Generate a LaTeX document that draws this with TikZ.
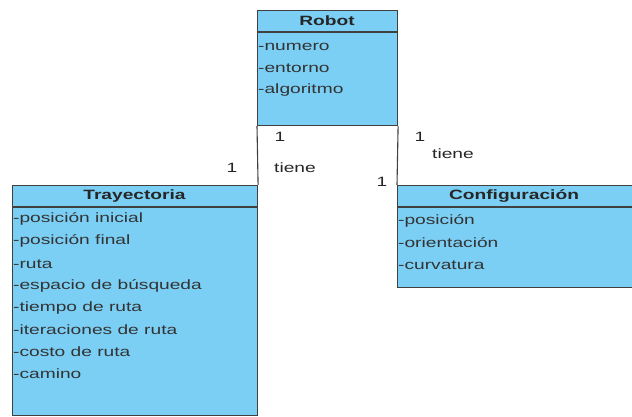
\documentclass[tikz,border=0pt]{standalone}
\usepackage{fontspec}
\setmainfont{Liberation Sans}[FakeStretch=1.42]
\begin{document}
\begin{tikzpicture}[x=1pt,y=-1pt,
  classbox/.style={draw=black!75,line width=1.1pt,fill=umlblue,anchor=north west,inner sep=0pt},
  hdr/.style={font=\fontsize{13.5}{14}\selectfont\bfseries,text=black!85,anchor=center},
  attr/.style={font=\fontsize{13.5}{14}\selectfont,text=black!80,anchor=west,inner sep=0pt},
  lbl/.style={font=\fontsize{13.5}{14}\selectfont,text=black!85,anchor=center,inner sep=0pt},
  conn/.style={draw=black!75,line width=1.1pt}]
\definecolor{umlblue}{HTML}{7BCFF4}
\useasboundingbox (0,0) rectangle (632,417);
% Robot
\node[classbox,minimum width=140pt,minimum height=115pt] (robot) at (257,10) {};
\draw[conn] (257,32) -- (397,32);
\node[hdr] (robotT) at (327,21) {Robot};
\node[attr] (r1) at (258,47) {-numero};
\node[attr] (r2) at (258,68) {-entorno};
\node[attr] (r3) at (258,90) {-algoritmo};
% Trayectoria
\node[classbox,minimum width=245pt,minimum height=230pt] (tray) at (12,185) {};
\draw[conn] (12,207) -- (257,207);
\node[hdr] (trayT) at (134.5,196) {Trayectoria};
\node[attr] (t1) at (13,219) {-posición inicial};
\node[attr] (t2) at (13,241) {-posición final};
\node[attr] (t3) at (13,264) {-ruta};
\node[attr] (t4) at (13,286) {-espacio de búsqueda};
\node[attr] (t5) at (13,308) {-tiempo de ruta};
\node[attr] (t6) at (13,330) {-iteraciones de ruta};
\node[attr] (t7) at (13,352) {-costo de ruta};
\node[attr] (t8) at (13,374) {-camino};
% Configuracion
\node[classbox,minimum width=236pt,minimum height=102pt] (conf) at (397,185) {};
\draw[conn] (397,207) -- (632,207);
\node[hdr] (confT) at (514,196) {Configuración};
\node[attr] (c1) at (398,221) {-posición};
\node[attr] (c2) at (398,243) {-orientación};
\node[attr] (c3) at (398,265) {-curvatura};
% connectors
\draw[conn] (robot.south west) -- (tray.north east);
\draw[conn] (robot.south east) -- (conf.north west);
% labels
\node[lbl] (m1) at (280,137) {1};
\node[lbl] (n1) at (295,168) {tiene};
\node[lbl] (m2) at (232,168) {1};
\node[lbl] (m3) at (382,182) {1};
\node[lbl] (m4) at (420,137) {1};
\node[lbl] (n2) at (453,154) {tiene};
\end{tikzpicture}
\end{document}
